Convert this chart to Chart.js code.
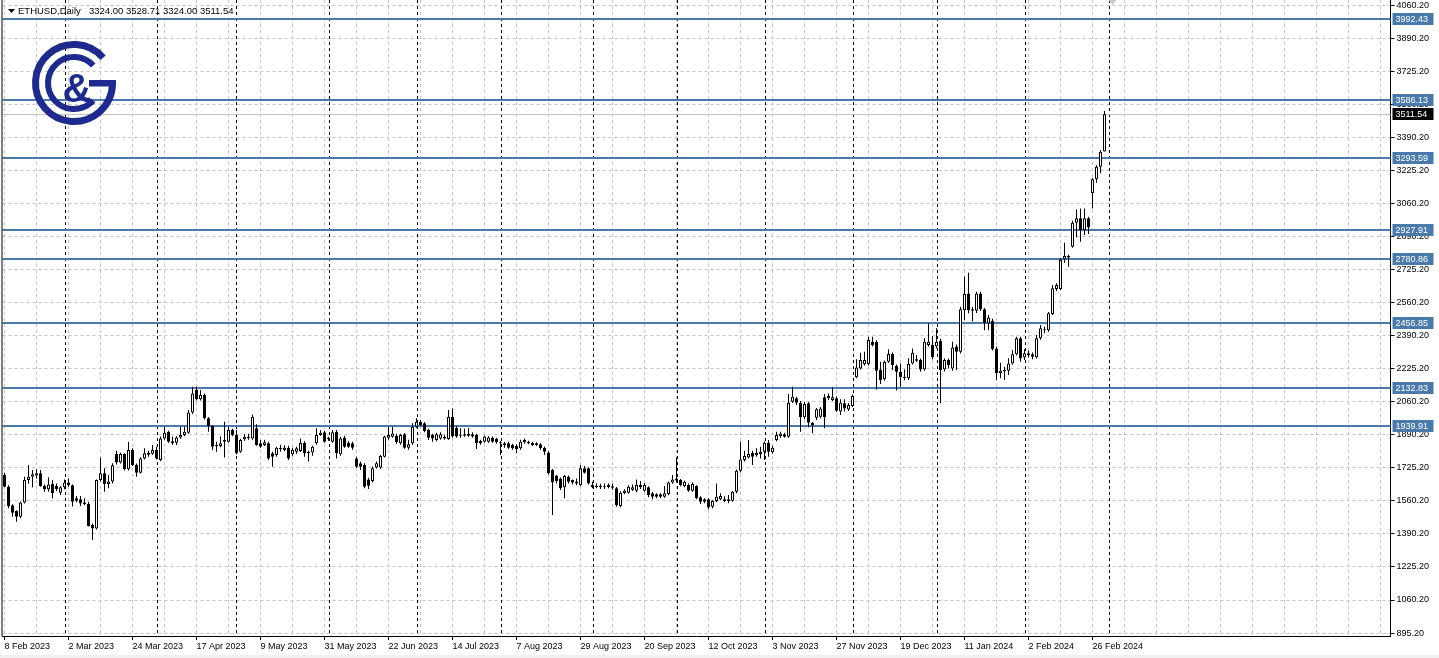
<!DOCTYPE html>
<html>
<head>
<meta charset="utf-8">
<script src="https://cdn.jsdelivr.net/npm/chart.js@4.4.1/dist/chart.umd.min.js"></script>
<style>
  html, body { margin: 0; padding: 0; background: #fff; }
  #wrap { width: 1439px; height: 658px; }
</style>
</head>
<body>
<div id="wrap"><canvas id="myChart" width="1439" height="658"></canvas></div>
<script>
const symbolTitle = 'ETHUSD,Daily';
const ohlcTitle = '3324.00 3528.71 3324.00 3511.54';

// daily bars, 8 Feb 2023 .. 29 Feb 2024 (weekdays)
const opens = [
  1692,1633,1540,1511,1482,1553,1667,1684,1690,1701,
  1637,1620,1647,1637,1603,1630,1654,1640,1575,1570,
  1554,1546,1440,1423,1667,1701,1647,1659,1798,1755,
  1798,1721,1818,1743,1704,1776,1795,1800,1818,1768,
  1877,1909,1862,1855,1882,1894,1906,2008,2121,2074,
  2096,1978,1939,1845,1839,1869,1860,1919,1894,1810,
  1873,1878,1877,1928,1852,1844,1852,1802,1793,1822,
  1818,1830,1797,1810,1813,1855,1810,1806,1852,1894,
  1908,1880,1860,1911,1797,1880,1855,1852,1776,1751,
  1743,1670,1662,1730,1730,1785,1880,1885,1890,1852,
  1898,1830,1852,1936,1961,1953,1919,1894,1869,1877,
  1885,1874,1986,1931,1890,1898,1890,1898,1894,1864,
  1860,1860,1880,1874,1857,1852,1852,1844,1840,1827,
  1857,1860,1855,1852,1847,1830,1806,1717,1690,1675,
  1630,1684,1667,1660,1642,1726,1726,1642,1638,1638,
  1636,1642,1636,1625,1536,1600,1603,1618,1613,1642,
  1613,1630,1600,1595,1595,1583,1596,1654,1675,1667,
  1637,1642,1613,1637,1580,1570,1570,1532,1561,1570,
  1570,1570,1563,1608,1714,1768,1781,1805,1793,1798,
  1810,1855,1807,1869,1889,1898,1885,2062,2079,2057,
  1983,2054,1956,1981,1986,2084,2079,2070,2079,2012,
  2054,2023,2040,2185,2230,2251,2252,2365,2365,2222,
  2175,2264,2303,2242,2213,2188,2180,2255,2276,2272,
  2225,2348,2348,2340,2370,2225,2272,2230,2340,2314,
  2524,2608,2528,2521,2608,2528,2457,2470,2331,2205,
  2215,2218,2255,2302,2382,2285,2306,2302,2286,2382,
  2428,2423,2505,2630,2630,2780,2797,2844,2965,2987,
  2928,2987,3113,3184,3247,3324
];
const highs = [
  1704,1640,1545,1515,1558,1684,1743,1718,1721,1717,
  1645,1681,1667,1650,1635,1670,1675,1645,1586,1586,
  1575,1556,1448,1670,1781,1726,1692,1751,1815,1805,
  1802,1860,1827,1750,1782,1827,1815,1844,1835,1886,
  1936,1915,1886,1888,1936,1936,2020,2138,2138,2121,
  2104,1985,1945,1860,1886,1961,1936,1925,1919,1875,
  1898,1900,1998,1948,1869,1870,1860,1810,1835,1845,
  1842,1840,1830,1835,1877,1862,1815,1840,1928,1919,
  1915,1885,1919,1919,1885,1890,1862,1860,1785,1760,
  1751,1678,1735,1760,1793,1890,1936,1936,1900,1900,
  1904,1870,1953,1978,1970,1960,1925,1900,1905,1908,
  1895,2020,2028,1940,1928,1925,1928,1908,1900,1870,
  1892,1888,1886,1880,1864,1860,1860,1850,1848,1870,
  1877,1865,1860,1858,1852,1836,1812,1722,1692,1680,
  1692,1690,1670,1675,1743,1738,1732,1658,1650,1648,
  1650,1650,1650,1632,1610,1620,1640,1645,1670,1662,
  1652,1636,1606,1600,1600,1637,1660,1692,1781,1672,
  1665,1650,1655,1640,1585,1575,1575,1565,1650,1600,
  1585,1591,1612,1720,1860,1815,1869,1815,1827,1835,
  1862,1869,1840,1911,1910,1906,2101,2138,2087,2065,
  2062,2060,1960,2030,2035,2101,2104,2134,2087,2074,
  2074,2055,2098,2276,2309,2314,2390,2390,2372,2264,
  2270,2326,2310,2250,2255,2225,2281,2331,2297,2280,
  2382,2457,2393,2432,2380,2280,2280,2365,2350,2541,
  2693,2713,2540,2617,2617,2535,2499,2480,2340,2259,
  2238,2281,2323,2390,2390,2326,2320,2310,2398,2449,
  2440,2515,2651,2659,2785,2864,2805,2975,3032,3037,
  3037,2995,3190,3255,3332,3528.71
];
const lows = [
  1630,1524,1482,1457,1474,1548,1650,1630,1675,1633,
  1608,1608,1575,1612,1591,1620,1633,1533,1555,1536,
  1540,1432,1364,1418,1660,1608,1625,1650,1745,1750,
  1715,1715,1738,1684,1700,1770,1785,1795,1770,1762,
  1870,1855,1845,1844,1875,1888,1900,2000,2068,2068,
  1972,1911,1818,1810,1832,1781,1855,1888,1796,1805,
  1865,1870,1870,1840,1830,1838,1768,1734,1785,1810,
  1812,1768,1790,1800,1808,1785,1760,1790,1845,1890,
  1855,1865,1855,1776,1790,1830,1830,1820,1728,1717,
  1625,1622,1655,1725,1722,1780,1870,1880,1850,1845,
  1825,1820,1845,1930,1938,1908,1869,1860,1862,1870,
  1870,1870,1880,1880,1880,1885,1885,1880,1823,1845,
  1855,1855,1855,1850,1793,1830,1825,1820,1802,1820,
  1850,1848,1838,1838,1820,1793,1695,1491,1650,1617,
  1575,1650,1645,1640,1638,1700,1645,1625,1625,1622,
  1622,1625,1618,1532,1530,1595,1598,1612,1605,1622,
  1608,1580,1570,1575,1575,1578,1590,1648,1655,1636,
  1630,1608,1608,1570,1546,1550,1519,1525,1555,1565,
  1555,1550,1558,1600,1705,1760,1775,1743,1785,1776,
  1768,1785,1800,1862,1880,1880,1880,2055,2045,1911,
  1975,1933,1903,1970,1978,1928,2070,2065,2010,1995,
  2012,2015,2035,2180,2225,2245,2245,2340,2124,2151,
  2168,2258,2222,2118,2138,2170,2172,2250,2262,2213,
  2218,2340,2276,2330,2054,2215,2230,2218,2222,2305,
  2474,2508,2466,2510,2520,2423,2423,2320,2171,2180,
  2171,2197,2248,2295,2264,2272,2285,2276,2280,2375,
  2407,2415,2500,2620,2625,2763,2743,2838,2891,2869,
  2903,2908,3037,3167,3215,3324
];
const closes = [
  1633,1536,1502,1482,1553,1667,1684,1696,1701,1637,
  1620,1645,1600,1620,1630,1654,1640,1558,1563,1549,
  1546,1435,1423,1667,1701,1647,1659,1741,1755,1798,
  1721,1818,1743,1704,1776,1802,1805,1818,1776,1877,
  1906,1860,1852,1882,1894,1911,2008,2104,2074,2096,
  1978,1939,1835,1839,1852,1860,1919,1894,1802,1869,
  1885,1885,1986,1844,1835,1857,1776,1785,1830,1830,
  1830,1776,1818,1827,1855,1802,1802,1835,1894,1906,
  1860,1874,1908,1802,1877,1835,1835,1830,1734,1734,
  1633,1638,1726,1751,1788,1886,1894,1902,1857,1894,
  1830,1847,1936,1961,1945,1914,1880,1877,1898,1898,
  1877,1986,1886,1886,1894,1890,1900,1886,1852,1852,
  1886,1882,1860,1857,1852,1844,1830,1827,1823,1860,
  1869,1852,1844,1844,1827,1810,1701,1655,1662,1625,
  1687,1658,1654,1650,1726,1704,1650,1630,1630,1630,
  1630,1630,1628,1541,1603,1613,1633,1630,1642,1630,
  1642,1591,1583,1583,1583,1600,1654,1670,1664,1642,
  1658,1613,1647,1575,1558,1558,1529,1561,1583,1586,
  1561,1561,1608,1714,1771,1788,1798,1785,1805,1810,
  1855,1810,1830,1894,1902,1885,2057,2087,2057,1983,
  2050,1956,1944,2024,2028,1983,2091,2084,2017,2057,
  2028,2045,2091,2235,2272,2272,2373,2348,2218,2171,
  2264,2303,2247,2213,2185,2180,2252,2309,2269,2225,
  2365,2365,2286,2365,2222,2272,2247,2336,2314,2528,
  2605,2524,2521,2608,2528,2460,2487,2326,2205,2218,
  2222,2255,2302,2382,2280,2306,2296,2289,2382,2432,
  2423,2508,2634,2651,2777,2797,2790,2965,2987,2928,
  2987,2941,3184,3247,3323,3511.54
];

// one date label every 16 bars
const dateLabels = ['8 Feb 2023', '2 Mar 2023', '24 Mar 2023', '17 Apr 2023', '9 May 2023',
  '31 May 2023', '22 Jun 2023', '14 Jul 2023', '7 Aug 2023', '29 Aug 2023', '20 Sep 2023',
  '12 Oct 2023', '3 Nov 2023', '27 Nov 2023', '19 Dec 2023', '11 Jan 2024', '2 Feb 2024', '26 Feb 2024'];
const priceLabels = ['895.20', '1060.20', '1225.20', '1390.20', '1560.20', '1725.20', '1890.20',
  '2060.20', '2225.20', '2390.20', '2560.20', '2725.20', '2890.20', '3060.20', '3225.20',
  '3390.20', '3560.20', '3725.20', '3890.20', '4060.20'];
const levels = [3992.43, 3586.13, 3293.59, 2927.91, 2780.86, 2456.85, 2132.83, 1939.91];
const lastPrice = 3511.54;
// bar index of first bar of each month (period separators)
const monthStarts = [15, 38, 58, 81, 103, 124, 147, 168, 190, 212, 233, 255, 276];

const FONT = '"Liberation Sans", Arial, sans-serif';
const levelBlue = '#4a7aab';

const bodyData = opens.map((o, i) => ({x: i, y: [o, closes[i]]}));
const wickData = lows.map((l, i) => ({x: i, y: [l, highs[i]]}));

function drawLogo(ctx) {
    const cx = 74, cy = 83;
    ctx.save();
    ctx.strokeStyle = '#1e2a8e';
    ctx.fillStyle = '#1e2a8e';
    ctx.lineWidth = 7;
    // outer G
    ctx.beginPath();
    ctx.arc(cx, cy, 38.5, -41 * Math.PI / 180, 0, true);
    ctx.stroke();
    ctx.fillRect(cx + 15, cy - 3, 27, 6.5);
    // inner C
    ctx.lineWidth = 6;
    ctx.beginPath();
    ctx.arc(cx, cy, 26, -42 * Math.PI / 180, 42 * Math.PI / 180, true);
    ctx.stroke();
    ctx.font = 'bold 40px ' + FONT;
    ctx.textAlign = 'center';
    ctx.textBaseline = 'alphabetic';
    ctx.fillText('&', cx + 3, cy + 19);
    ctx.restore();
}

function priceBox(ctx, x, y, text, bg) {
    ctx.fillStyle = bg;
    ctx.fillRect(x, Math.round(y) - 6, 41, 12);
    ctx.fillStyle = '#fff';
    ctx.textAlign = 'left';
    ctx.textBaseline = 'middle';
    ctx.fillText(text, x + 3, Math.round(y) + 0.5);
}

const mtDecor = {
    id: 'mtDecor',
    beforeDraw(chart) {
        const ctx = chart.ctx;
        ctx.save();
        ctx.fillStyle = '#fff';
        ctx.fillRect(0, 0, chart.width, chart.height);
        ctx.fillStyle = '#f0f0f0';
        ctx.fillRect(0, chart.height - 3, chart.width, 3);
        ctx.restore();
    },
    beforeDatasetsDraw(chart) {
        const {ctx, chartArea: a, scales: {x, y}} = chart;
        ctx.save();
        // month separators
        ctx.strokeStyle = '#000';
        ctx.lineWidth = 1;
        ctx.setLineDash([3, 3]);
        monthStarts.forEach(m => {
            const px = Math.round(x.getPixelForValue(m)) + 0.5;
            ctx.beginPath();
            ctx.moveTo(px, a.top);
            ctx.lineTo(px, a.bottom);
            ctx.stroke();
        });
        ctx.setLineDash([]);
        // last price line
        const lp = Math.round(y.getPixelForValue(lastPrice)) + 0.5;
        ctx.strokeStyle = '#c0c0c0';
        ctx.beginPath();
        ctx.moveTo(a.left, lp);
        ctx.lineTo(a.right, lp);
        ctx.stroke();
        // horizontal levels
        ctx.strokeStyle = levelBlue;
        ctx.lineWidth = 2;
        levels.forEach(v => {
            const py = Math.round(y.getPixelForValue(v));
            ctx.beginPath();
            ctx.moveTo(a.left, py);
            ctx.lineTo(a.right, py);
            ctx.stroke();
        });
        ctx.restore();
    },
    afterDraw(chart) {
        const {ctx, chartArea: a, scales: {x, y}} = chart;
        ctx.save();
        // left border
        ctx.strokeStyle = '#000';
        ctx.lineWidth = 1;
        ctx.beginPath();
        ctx.moveTo(a.left - 0.5, 0);
        ctx.lineTo(a.left - 0.5, a.bottom);
        ctx.stroke();
        // price boxes
        ctx.font = '9px ' + FONT;
        levels.forEach(v => priceBox(ctx, a.right + 2, y.getPixelForValue(v), v.toFixed(2), levelBlue));
        priceBox(ctx, a.right + 2, y.getPixelForValue(lastPrice), lastPrice.toFixed(2), '#000');
        // shift marker
        const sx = x.getPixelForValue(277);
        ctx.fillStyle = '#c8c8c8';
        ctx.beginPath();
        ctx.moveTo(sx - 4, 0);
        ctx.lineTo(sx + 4, 0);
        ctx.lineTo(sx, 5);
        ctx.closePath();
        ctx.fill();
        // title
        ctx.fillStyle = '#000';
        ctx.beginPath();
        ctx.moveTo(8, 9);
        ctx.lineTo(15, 9);
        ctx.lineTo(11.5, 13);
        ctx.closePath();
        ctx.fill();
        ctx.font = '9.5px ' + FONT;
        ctx.textAlign = 'left';
        ctx.textBaseline = 'alphabetic';
        ctx.fillText(symbolTitle, 18, 14);
        ctx.fillText(ohlcTitle, 89, 14);
        drawLogo(ctx);
        ctx.restore();
    }
};

const ctx = document.getElementById('myChart').getContext('2d');
const myChart = new Chart(ctx, {
    type: 'bar',
    data: {
        datasets: [{
            label: 'body',
            data: bodyData,
            barThickness: 3,
            backgroundColor: c => closes[c.dataIndex] >= opens[c.dataIndex] ? '#fff' : '#000',
            borderColor: '#000',
            borderWidth: 1,
            borderSkipped: false,
            minBarLength: 1,
            inflateAmount: 0,
            grouped: false,
            order: 0
        }, {
            label: 'wick',
            data: wickData,
            barThickness: 1,
            backgroundColor: '#000',
            borderWidth: 0,
            inflateAmount: 0,
            grouped: false,
            order: 1
        }]
    },
    options: {
        responsive: false,
        animation: false,
        devicePixelRatio: 1,
        layout: { padding: { left: 2.5, top: 0, right: 0, bottom: 0 } },
        plugins: { legend: { display: false }, tooltip: { enabled: false } },
        scales: {
            x: {
                type: 'linear',
                offset: false,
                min: -0.5,
                max: 346.5,
                afterBuildTicks: s => {
                    const t = [];
                    for (let v = 0; v <= 344; v += 8) t.push({value: v});
                    s.ticks = t;
                },
                afterFit: s => { s.height = 22; s.paddingLeft = 0; s.paddingRight = 0; },
                grid: {
                    offset: false,
                    color: '#c4c4c4',
                    lineWidth: 1,
                    tickLength: 4,
                    tickColor: c => (c.tick && c.tick.value % 16 === 0 && c.tick.value / 16 < dateLabels.length) ? '#000' : 'rgba(0,0,0,0)'
                },
                border: { display: true, color: '#000', width: 1, dash: [3, 3] },
                ticks: {
                    autoSkip: false,
                    maxRotation: 0,
                    align: 'start',
                    padding: 1,
                    color: '#000',
                    font: { family: FONT, size: 9 },
                    callback: v => (v % 16 === 0 ? (dateLabels[v / 16] || '') : '')
                }
            },
            y: {
                type: 'linear',
                position: 'right',
                min: 880.22,
                max: 4088.27,
                afterBuildTicks: s => {
                    s.ticks = priceLabels.map((p, k) => ({value: 895.2 + k * 3165 / 19}));
                },
                afterFit: s => { s.width = 48.5; s.paddingTop = 0; s.paddingBottom = 0; },
                grid: { color: '#c4c4c4', lineWidth: 1, tickLength: 4, tickColor: '#000' },
                border: { display: true, color: '#000', width: 1, dash: [3, 3] },
                ticks: {
                    autoSkip: false,
                    padding: 2,
                    color: '#000',
                    font: { family: FONT, size: 9 },
                    callback: (v, i) => priceLabels[i]
                }
            }
        }
    },
    plugins: [mtDecor]
});
</script>
</body>
</html>
